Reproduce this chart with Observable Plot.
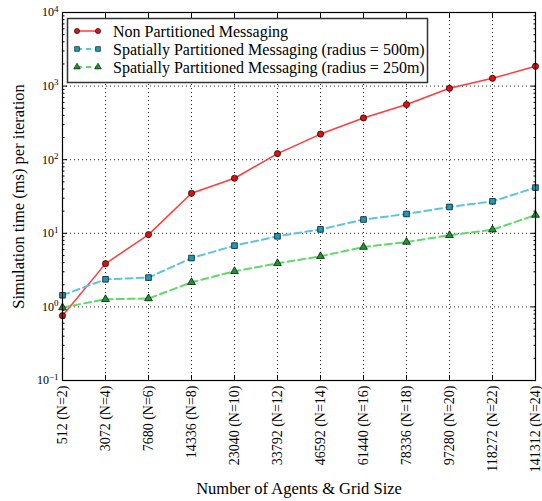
<!DOCTYPE html>
<html><head><meta charset="utf-8">
<script src="https://cdn.jsdelivr.net/npm/d3@7"></script>
<script src="https://cdn.jsdelivr.net/npm/@observablehq/plot@0.6"></script>
<style>body{margin:0;background:#fff} #chart{position:relative;width:542px;height:501px}</style>
</head><body><div id="chart"></div>
<script>
const categories = ["512 (N=2)","3072 (N=4)","7680 (N=6)","14336 (N=8)","23040 (N=10)","33792 (N=12)","46592 (N=14)","61440 (N=16)","78336 (N=18)","97280 (N=20)","118272 (N=22)","141312 (N=24)"];
const nonPartitioned = [0.76, 3.87, 9.6, 35, 56, 121, 223, 369, 561, 933, 1276, 1858];
const partitioned500 = [1.44, 2.37, 2.50, 4.61, 6.8, 9.1, 11.3, 15.4, 18.3, 22.8, 27.2, 41.8];
const partitioned250 = [0.98, 1.27, 1.30, 2.16, 3.05, 3.91, 4.87, 6.5, 7.62, 9.4, 11.2, 17.7];
const seriesNames = ["Non Partitioned Messaging", "Spatially Partitioned Messaging (radius = 500m)", "Spatially Partitioned Messaging (radius = 250m)"];
const yTicks = [0.1, 1, 10, 100, 1000, 10000];
const xTitle = "Number of Agents & Grid Size";
const yTitle = "Simulation time (ms) per iteration";

const styles = [
  {line: "#ff3b3b", fill: "#e01010", dash: null, width: 1.5, symbol: "circle", r: 3.1},
  {line: "#5bc5e0", fill: "#1a9cc0", dash: "7,4", width: 2, symbol: "square", r: 3.2},
  {line: "#5fd96a", fill: "#199a2e", dash: "7,4", width: 2, symbol: "triangle", r: 2.9}
];
const allSeries = [nonPartitioned, partitioned500, partitioned250];
const minorTicks = [];
for (let e = -1; e < 4; e++) for (let m = 2; m < 10; m++) minorTicks.push(m * Math.pow(10, e));

const seriesMarks = allSeries.flatMap((vals, s) => {
  const data = vals.map((v, i) => ({x: categories[i], y: v}));
  const st = styles[s];
  return [
    Plot.line(data, {x: "x", y: "y", stroke: st.line, strokeWidth: st.width, strokeDasharray: st.dash}),
    Plot.dot(data, {x: "x", y: "y", symbol: st.symbol, r: st.r, fill: st.fill, stroke: "black", strokeWidth: 0.7})
  ];
});

const blank = () => "";
const plot = Plot.plot({
  width: 542, height: 501,
  marginLeft: 62, marginRight: 7, marginTop: 12, marginBottom: 121,
  style: {fontFamily: "'Liberation Serif', serif", fontSize: "14px", color: "black", background: "white"},
  x: {type: "point", domain: categories, padding: 0},
  y: {type: "log", domain: [0.1, 10000]},
  marks: [
    Plot.gridY(yTicks, {stroke: "black", strokeOpacity: 0.85, strokeDasharray: "1,3", strokeWidth: 1}),
    Plot.gridX(categories, {stroke: "black", strokeOpacity: 0.85, strokeDasharray: "1,3", strokeWidth: 1}),
    Plot.axisY({anchor: "left", ticks: yTicks, tickSize: 0, tickPadding: 4, label: null,
      tickFormat: d => "10^" + Math.round(Math.log10(d)), fontSize: 12}),
    Plot.axisY({anchor: "left", ticks: yTicks, tickSize: -5, tickFormat: blank, label: null}),
    Plot.axisY({anchor: "right", ticks: yTicks, tickSize: -5, tickFormat: blank, label: null}),
    Plot.axisY({anchor: "left", ticks: minorTicks, tickSize: -2.5, tickFormat: blank, label: null}),
    Plot.axisY({anchor: "right", ticks: minorTicks, tickSize: -2.5, tickFormat: blank, label: null}),
    Plot.axisX({anchor: "bottom", ticks: categories, tickSize: 0, tickPadding: 5, tickRotate: -90, label: null}),
    Plot.axisX({anchor: "bottom", ticks: categories, tickSize: -5, tickFormat: blank, label: null}),
    Plot.axisX({anchor: "top", ticks: categories, tickSize: -5, tickFormat: blank, label: null}),
    ...seriesMarks,
    Plot.frame({stroke: "black", strokeWidth: 1.2}),
    Plot.text([yTitle], {frameAnchor: "left", textAnchor: "middle", rotate: -90, dx: -44, fontSize: 16.5}),
    Plot.text([xTitle], {frameAnchor: "bottom", textAnchor: "middle", dy: 113, fontSize: 16.5})
  ]
});
document.getElementById("chart").appendChild(plot);

// superscript exponents on y tick labels
d3.select(plot).selectAll("text").each(function() {
  const t = this.textContent;
  const m = /^10\^(-?\d+)$/.exec(t);
  if (m) {
    const sel = d3.select(this);
    sel.text(null);
    sel.append("tspan").text("10");
    sel.append("tspan").attr("dy", "-0.5em").attr("font-size", "9px").text(m[1].replace("-", "\u2212"));
  }
});

// legend inside plot
const svg = d3.select(plot);
const lg = svg.append("g").attr("font-family", "'Liberation Serif', serif").attr("font-size", "16px").attr("text-anchor", "start");
lg.append("rect").attr("x", 67.5).attr("y", 18.5).attr("width", 360).attr("height", 64)
  .attr("fill", "white").attr("stroke", "#333").attr("stroke-width", 1.5);
const symGen = {circle: d3.symbolCircle, square: d3.symbolSquare, triangle: d3.symbolTriangle};
seriesNames.forEach((name, i) => {
  const st = styles[i];
  const cy = 31 + i * 18;
  lg.append("line").attr("x1", 77).attr("x2", 98).attr("y1", cy).attr("y2", cy)
    .attr("stroke", st.line).attr("stroke-width", st.width).attr("stroke-dasharray", st.dash ? "5,4" : null);
  [77, 98].forEach(cx => {
    lg.append("path").attr("d", d3.symbol(symGen[st.symbol], st.r * st.r * Math.PI * 0.7)())
      .attr("transform", `translate(${cx},${cy})`).attr("fill", st.fill).attr("stroke", "black").attr("stroke-width", 0.6);
  });
  lg.append("text").attr("x", 113).attr("y", cy).attr("dy", "0.35em").attr("text-anchor", "start").text(name);
});
</script>
</body></html>
